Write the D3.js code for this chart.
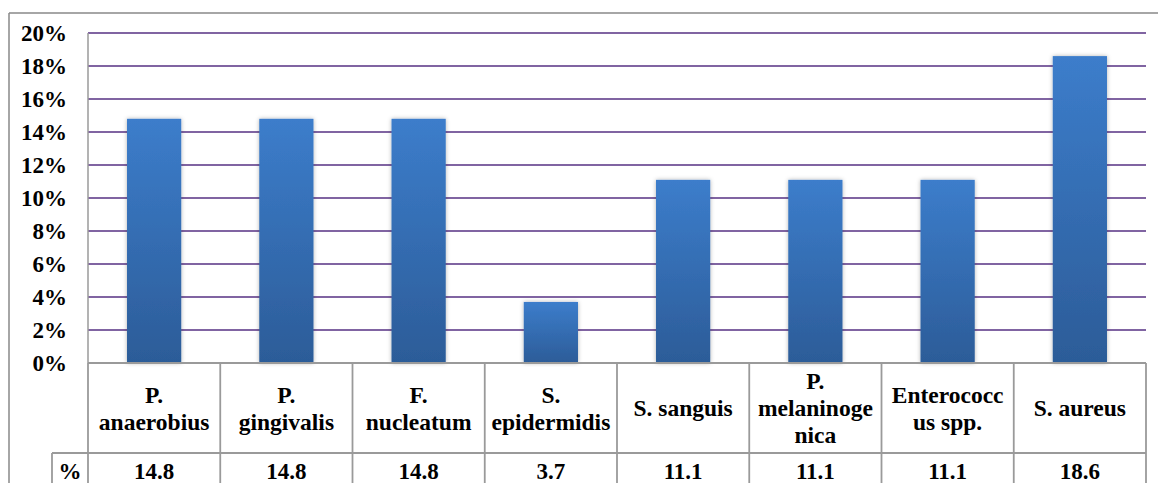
<!DOCTYPE html>
<html>
<head>
<meta charset="utf-8">
<script src="https://cdn.jsdelivr.net/npm/d3@7"></script>
</head>
<body style="margin:0; background:#fff">
<svg id="chart" width="1159" height="483" style="display:block"></svg>
<script>
// ---- data ----
const categories = ["P. anaerobius", "P. gingivalis", "F. nucleatum", "S. epidermidis",
                    "S. sanguis", "P. melaninogenica", "Enterococcus spp.", "S. aureus"];
const categoryLines = [["P.", "anaerobius"], ["P.", "gingivalis"], ["F.", "nucleatum"], ["S.", "epidermidis"],
                       ["S. sanguis"], ["P.", "melaninoge", "nica"], ["Enterococc", "us spp."], ["S. aureus"]];
const values = [14.8, 14.8, 14.8, 3.7, 11.1, 11.1, 11.1, 18.6];
const valueLabels = ["14.8", "14.8", "14.8", "3.7", "11.1", "11.1", "11.1", "18.6"];
const yTicks = [0, 2, 4, 6, 8, 10, 12, 14, 16, 18, 20];
const rowHeader = "%";

// ---- layout ----
const svg = d3.select("#chart");
const plotLeft = 88, plotRight = 1146, plotTop = 33, plotBottom = 363;
const row1Bottom = 453, tableBottom = 490, pctLeft = 52;

const x = d3.scaleBand().domain(categories).range([plotLeft, plotRight]).padding(0);
const y = d3.scaleLinear().domain([0, 20]).range([plotBottom, plotTop]);
const barW = x.bandwidth() * 0.41;

const defs = svg.append("defs");
const grad = defs.append("linearGradient").attr("id", "barGrad")
  .attr("x1", 0).attr("y1", 0).attr("x2", 0).attr("y2", 1);
grad.append("stop").attr("offset", "0%").attr("stop-color", "#3c7dcb");
grad.append("stop").attr("offset", "100%").attr("stop-color", "#2c5c98");
const filt = defs.append("filter").attr("id", "shadow")
  .attr("x", "-20%").attr("y", "-5%").attr("width", "140%").attr("height", "110%");
filt.append("feDropShadow").attr("dx", 0).attr("dy", 0).attr("stdDeviation", 2)
  .attr("flood-color", "#000").attr("flood-opacity", 0.3);

const gray = "#9a9a9a";

// outer frame (top + left)
svg.append("line").attr("x1", 9).attr("x2", 1158).attr("y1", 13).attr("y2", 13)
  .attr("stroke", "#888").attr("stroke-width", 1.5);
svg.append("line").attr("x1", 9).attr("x2", 9).attr("y1", 13).attr("y2", 483)
  .attr("stroke", "#888").attr("stroke-width", 1.5);

// gridlines
svg.append("g").selectAll("line").data(yTicks.filter(d => d > 0)).join("line")
  .attr("x1", plotLeft).attr("x2", plotRight)
  .attr("y1", d => y(d)).attr("y2", d => y(d))
  .attr("stroke", "#8064a2").attr("stroke-width", 2);

// y axis line
svg.append("line").attr("x1", plotLeft).attr("x2", plotLeft).attr("y1", plotTop).attr("y2", plotBottom)
  .attr("stroke", gray).attr("stroke-width", 1.5);

function styleText(sel, size) {
  return sel.attr("font-family", "Tinos, FreeSerif, serif").attr("font-weight", "bold").attr("font-size", size);
}

// y tick labels
styleText(svg.append("g").selectAll("text").data(yTicks).join("text")
  .attr("x", 67).attr("y", d => y(d) + 8)
  .attr("text-anchor", "end"), 23)
  .text(d => d + "%");

// bars
svg.append("g").selectAll("rect").data(values).join("rect")
  .attr("x", (d, i) => x(categories[i]) + (x.bandwidth() - barW) / 2)
  .attr("width", barW)
  .attr("y", d => y(d))
  .attr("height", d => y(0) - y(d))
  .attr("fill", "url(#barGrad)")
  .attr("filter", "url(#shadow)");

// table
const tbl = svg.append("g").attr("stroke", gray).attr("stroke-width", 1.8);
tbl.append("line").attr("x1", plotLeft).attr("x2", plotRight).attr("y1", plotBottom).attr("y2", plotBottom);
tbl.append("line").attr("x1", pctLeft).attr("x2", plotRight).attr("y1", row1Bottom).attr("y2", row1Bottom);
const bounds = categories.map(c => x(c)).concat([plotRight]);
tbl.selectAll("line.v").data(bounds).join("line").attr("class", "v")
  .attr("x1", d => d).attr("x2", d => d).attr("y1", plotBottom).attr("y2", tableBottom);
tbl.append("line").attr("x1", pctLeft).attr("x2", pctLeft).attr("y1", row1Bottom).attr("y2", tableBottom);

// category labels
const lineGap = 27, row1Mid = 408;
const cat = styleText(svg.append("g").selectAll("text").data(categoryLines).join("text")
  .attr("text-anchor", "middle"), 23.5);
cat.each(function(lines, i) {
  const cx = x(categories[i]) + x.bandwidth() / 2;
  d3.select(this).selectAll("tspan").data(lines).join("tspan")
    .attr("x", cx)
    .attr("y", (l, j) => row1Mid - (lines.length - 1) * lineGap / 2 + j * lineGap + 8)
    .text(l => l);
});

// values row
const row2Mid = 471;
styleText(svg.append("text").attr("x", (pctLeft + plotLeft) / 2).attr("y", row2Mid + 8)
  .attr("text-anchor", "middle"), 23)
  .text(rowHeader);
styleText(svg.append("g").selectAll("text").data(valueLabels).join("text")
  .attr("x", (d, i) => x(categories[i]) + x.bandwidth() / 2)
  .attr("y", row2Mid + 8)
  .attr("text-anchor", "middle"), 23)
  .text(d => d);
</script>
</body>
</html>
